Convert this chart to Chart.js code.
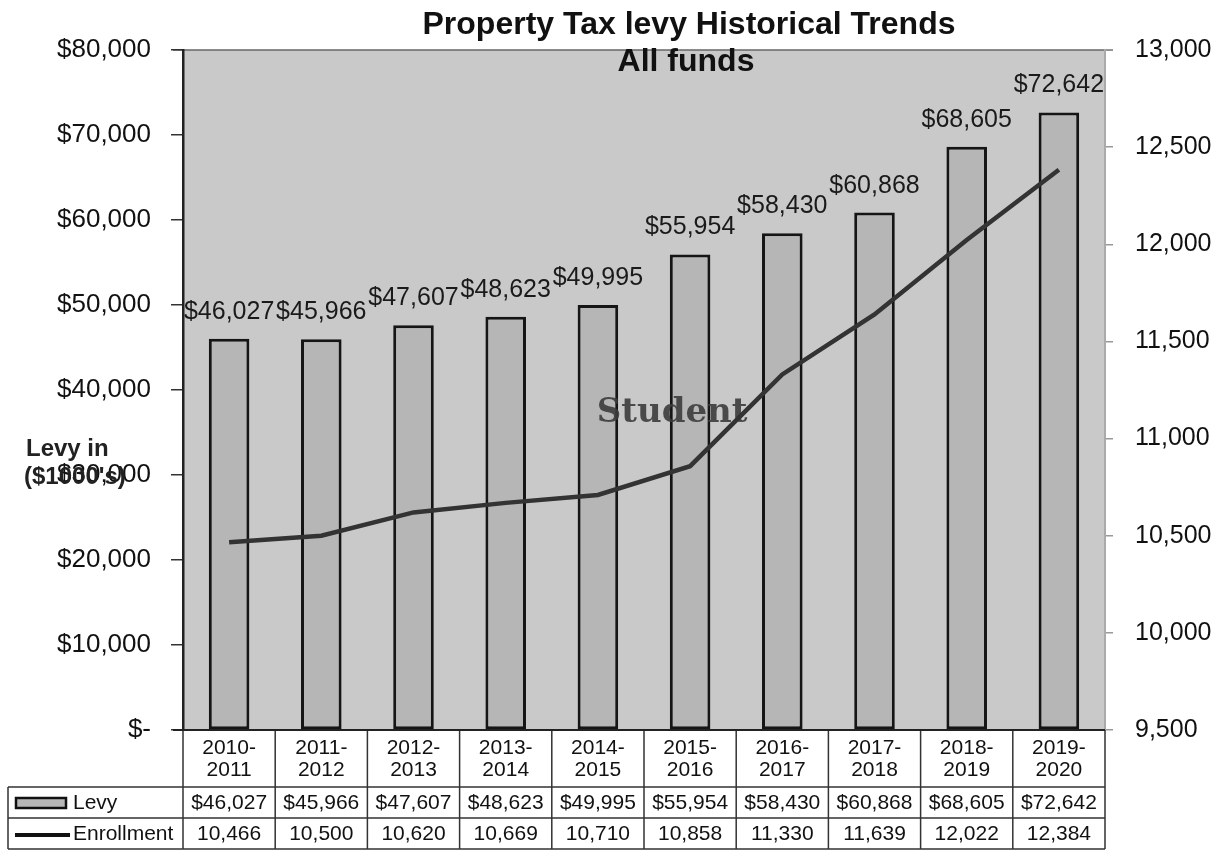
<!DOCTYPE html>
<html>
<head>
<meta charset="utf-8">
<script src="https://cdn.jsdelivr.net/npm/chart.js@4"></script>
<style>
html,body{margin:0;padding:0;background:#fff;}
#wrap{width:1220px;height:850px;}
</style>
</head>
<body>
<div id="wrap"><canvas id="c" width="1220" height="850"></canvas></div>
<script>
const categories = ['2010-2011','2011-2012','2012-2013','2013-2014','2014-2015','2015-2016','2016-2017','2017-2018','2018-2019','2019-2020'];
const levy = [46027, 45966, 47607, 48623, 49995, 55954, 58430, 60868, 68605, 72642];
const enrollment = [10466, 10500, 10620, 10669, 10710, 10858, 11330, 11639, 12022, 12384];
const levyAxis = [0, 80000, 10000];
const enrollAxis = [9500, 13000, 500];
const titleLines = ['Property Tax levy Historical Trends', 'All funds'];
const seriesNames = ['Levy', 'Enrollment'];
const yTitle = ['Levy in', "($1000's)"];
const overlayWord = 'Student';

const SANS = '"Liberation Sans", Arial, sans-serif';
const fmtMoney = v => '$' + v.toLocaleString('en-US');
const fmtNum = v => v.toLocaleString('en-US');

const decor = {
  id: 'decor',
  beforeDraw(chart) {
    const {ctx, chartArea: a} = chart;
    ctx.save();
    ctx.fillStyle = '#c9c9c9';
    ctx.fillRect(a.left, a.top, a.right - a.left, a.bottom - a.top);
    ctx.strokeStyle = '#666';
    ctx.lineWidth = 1.5;
    ctx.beginPath(); ctx.moveTo(a.left - 10, a.top); ctx.lineTo(a.right + 8, a.top); ctx.stroke();
    ctx.restore();
  },
  afterDatasetDraw(chart, args) {
    if (args.index !== 1) return;
    const {ctx} = chart;
    const x = chart.scales.x;
    ctx.save();
    ctx.font = 'bold 34px "DejaVu Serif", serif';
    ctx.fillStyle = 'rgba(60,60,60,0.9)';
    ctx.textAlign = 'center';
    ctx.textBaseline = 'middle';
    ctx.fillText(overlayWord, x.getPixelForValue(5) - 18, 413);
    ctx.restore();
  },
  afterDatasetsDraw(chart) {
    const {ctx, chartArea: a} = chart;
    const x = chart.scales.x, y = chart.scales.y;
    ctx.save();
    ctx.fillStyle = '#111';
    ctx.textAlign = 'center';
    ctx.textBaseline = 'middle';
    ctx.font = 'bold 32px ' + SANS;
    ctx.fillText(titleLines[0], 689, 25);
    ctx.fillText(titleLines[1], 686, 62);
    ctx.font = '25px ' + SANS;
    ctx.fillStyle = '#1a1a1a';
    levy.forEach((v, i) => {
      ctx.fillText(fmtMoney(v), x.getPixelForValue(i), y.getPixelForValue(v) - 27);
    });
    ctx.font = 'bold 24px ' + SANS;
    ctx.textAlign = 'left';
    ctx.fillStyle = '#222';
    ctx.fillText(yTitle[0], 26, 449);
    ctx.fillText(yTitle[1], 24, 477);

    const n = categories.length;
    const w = (a.right - a.left) / n;
    const top = a.bottom, r1 = 787, r2 = 818, bot = 849;
    ctx.strokeStyle = '#333';
    ctx.lineWidth = 1.5;
    ctx.beginPath();
    for (let i = 0; i <= n; i++) {
      const xx = x.getPixelForValue(i) - w / 2;
      ctx.moveTo(xx, top); ctx.lineTo(xx, bot);
    }
    ctx.moveTo(8, r1); ctx.lineTo(a.right, r1);
    ctx.moveTo(8, r2); ctx.lineTo(a.right, r2);
    ctx.moveTo(8, bot); ctx.lineTo(a.right, bot);
    ctx.moveTo(8, r1); ctx.lineTo(8, bot);
    ctx.stroke();
    ctx.strokeStyle = '#222';
    ctx.lineWidth = 2;
    ctx.beginPath(); ctx.moveTo(a.left - 10, a.bottom); ctx.lineTo(a.right, a.bottom); ctx.stroke();

    ctx.fillStyle = '#111';
    ctx.textAlign = 'center';
    ctx.font = '21px ' + SANS;
    categories.forEach((c, i) => {
      const parts = c.split('-');
      const cx = x.getPixelForValue(i);
      ctx.fillText(parts[0] + '-', cx, 748);
      ctx.fillText(parts[1], cx, 770);
      ctx.fillText(fmtMoney(levy[i]), cx, 803);
      ctx.fillText(fmtNum(enrollment[i]), cx, 834);
    });
    ctx.fillStyle = '#b8b8b8';
    ctx.strokeStyle = '#111';
    ctx.lineWidth = 2.5;
    ctx.fillRect(16, 798, 50, 10);
    ctx.strokeRect(16, 798, 50, 10);
    ctx.lineWidth = 4;
    ctx.beginPath(); ctx.moveTo(15, 835); ctx.lineTo(70, 835); ctx.stroke();
    ctx.textAlign = 'left';
    ctx.fillStyle = '#111';
    ctx.fillText(seriesNames[0], 73, 803);
    ctx.fillText(seriesNames[1], 73, 834);
    ctx.restore();
  }
};

new Chart(document.getElementById('c'), {
  type: 'bar',
  data: {
    labels: categories,
    datasets: [
      {
        type: 'line',
        label: seriesNames[1],
        data: enrollment,
        yAxisID: 'y1',
        borderColor: '#333333',
        borderWidth: 4.5,
        pointRadius: 0,
        tension: 0,
        order: 0
      },
      {
        type: 'bar',
        label: seriesNames[0],
        data: levy,
        yAxisID: 'y',
        backgroundColor: '#b6b6b6',
        borderColor: '#151515',
        borderWidth: 3,
        borderSkipped: false,
        barPercentage: 0.44,
        categoryPercentage: 1.0,
        order: 1
      }
    ]
  },
  options: {
    responsive: false,
    animation: false,
    devicePixelRatio: 1,
    layout: { padding: { top: 50, bottom: 120, left: 0, right: 0 } },
    plugins: { legend: { display: false }, tooltip: { enabled: false }, title: { display: false } },
    scales: {
      x: { type: 'category', display: false, offset: true },
      y: {
        position: 'left',
        min: levyAxis[0], max: levyAxis[1],
        afterFit(s) { s.width = 183; },
        ticks: {
          stepSize: levyAxis[2],
          padding: 20,
          color: '#111',
          font: { family: SANS, size: 26 },
          callback: v => v === 0 ? '$-' : fmtMoney(v)
        },
        grid: { drawOnChartArea: false, drawTicks: true, tickLength: 12, color: '#333', lineWidth: 1.5 },
        border: { display: true, color: '#222', width: 2.5 }
      },
      y1: {
        position: 'right',
        min: enrollAxis[0], max: enrollAxis[1],
        afterFit(s) { s.width = 115; },
        ticks: {
          stepSize: enrollAxis[2],
          padding: 22,
          color: '#111',
          font: { family: SANS, size: 25 },
          callback: v => fmtNum(v)
        },
        grid: { drawOnChartArea: false, drawTicks: true, tickLength: 8, color: '#999', lineWidth: 1.5 },
        border: { display: true, color: '#aaa', width: 2 }
      }
    }
  },
  plugins: [decor]
});
</script>
</body>
</html>
